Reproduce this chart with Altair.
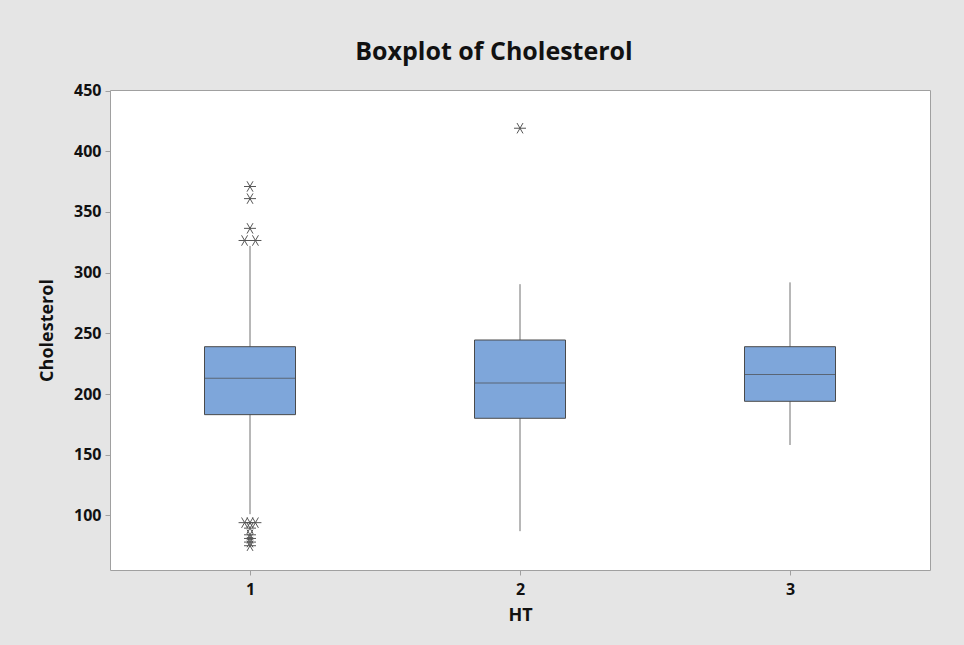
import altair as alt
import pandas as pd

# Summary statistics
groups = [1, 2, 3]
q1 = [183, 180, 194]
median = [213, 209, 216]
q3 = [239, 244.5, 239]
whisker_low = [101, 87, 158]
whisker_high = [322, 290.5, 292]

outlier_group = [1, 1, 1, 1, 1, 1, 1, 1, 1, 1, 1, 1, 1, 2]
outlier_value = [371, 361, 336.5, 326.5, 326.5, 94, 94, 94, 89.5, 84, 81, 78, 75, 419]

y_ticks = [100, 150, 200, 250, 300, 350, 400, 450]

W, H = 820, 480
box_df = pd.DataFrame({"HT": groups, "q1": q1, "med": median, "q3": q3,
                       "lo": whisker_low, "hi": whisker_high})

# place identical outliers side by side (Minitab style)
out_df = pd.DataFrame({"HT": outlier_group, "val": outlier_value})
out_df["rank"] = out_df.groupby(["HT", "val"]).cumcount()
out_df["n"] = out_df.groupby(["HT", "val"])["val"].transform("count")
spread_px = 11.0
unit_px = W / 3.0
out_df["xpos"] = out_df.apply(
    lambda r: r["HT"] + ((r["rank"] / (r["n"] - 1) - 0.5) * spread_px / unit_px if r["n"] > 1 else 0.0),
    axis=1)

xscale = alt.Scale(domain=[0.5, 3.5], nice=False, zero=False)
yscale = alt.Scale(domain=[55, 450.5], nice=False, zero=False)


def xenc(field):
    return alt.X(field, type="quantitative", scale=xscale,
                 axis=alt.Axis(values=groups, format="d", title="HT", grid=False,
                               labelPadding=6, titleY=45, titleBaseline="middle"))


def yenc(field):
    return alt.Y(field, type="quantitative", scale=yscale,
                 axis=alt.Axis(values=y_ticks, title="Cholesterol", grid=False,
                               labelPadding=4, titleX=-63, titleY=240,
                               titleAngle=270, titleAlign="center", titleBaseline="middle"))


whiskers = alt.Chart(box_df).mark_rule(color="#707070", strokeWidth=1).encode(
    x=xenc("HT"), y=yenc("lo"), y2="hi")

boxes = alt.Chart(box_df).mark_bar(size=91, fill="#7ea6da", stroke="#4a4a4a",
                                   strokeWidth=1).encode(
    x=xenc("HT"), y=yenc("q1"), y2="q3")

medians = alt.Chart(box_df).mark_tick(orient="horizontal", size=91, thickness=1,
                                      color="#4a4a4a").encode(
    x=xenc("HT"), y=yenc("med"))

star = "M-1,0L1,0M-0.5,-0.866L0.5,0.866M-0.5,0.866L0.5,-0.866"
outliers = alt.Chart(out_df).mark_point(shape=star, size=144, filled=False,
                                        stroke="#555555", strokeWidth=1, opacity=1).encode(
    x=xenc("xpos"), y=yenc("val"))

chart = alt.layer(whiskers, boxes, medians, outliers).properties(
    width=W, height=H,
    title=alt.TitleParams("Boxplot of Cholesterol", font="Open Sans", fontSize=25,
                          fontWeight="bold", color="#111111", anchor="middle",
                          offset=18, dx=-26),
    autosize=alt.AutoSizeParams(type="none"),
    padding={"left": 110, "top": 90, "right": 34, "bottom": 75},
).configure(background="#e5e5e5").configure_view(
    stroke="#a0a0a0", fill="white", strokeWidth=1
).configure_axis(
    domain=False, tickColor="#a0a0a0", tickSize=5,
    labelFont="Open Sans", labelFontWeight="bold", labelFontSize=16, labelColor="#111111",
    titleFont="Open Sans", titleFontWeight="bold", titleFontSize=18, titleColor="#111111",
)

chart.save("out.html", embed_options={"renderer": "svg", "actions": False})
